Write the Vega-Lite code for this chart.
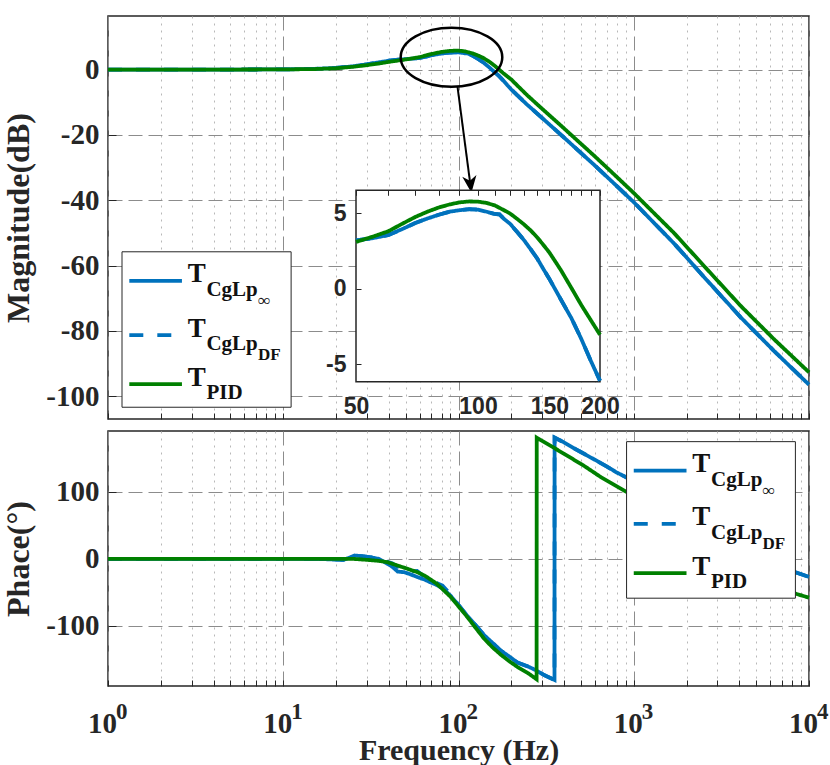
{
  "$schema": "https://vega.github.io/schema/vega-lite/v6.json",
  "padding": {"left": 2, "top": 15, "right": 5, "bottom": 0},
  "spacing": 12,
  "bounds": "flush",
  "datasets": {
    "mag": [
      {"s":"inf","f":1,"m":0},{"s":"inf","f":5,"m":0},{"s":"inf","f":10,"m":0.05},{"s":"inf","f":15,"m":0.2},{"s":"inf","f":20,"m":0.5},{"s":"inf","f":25,"m":1.0},{"s":"inf","f":30,"m":1.6},{"s":"inf","f":35,"m":2.2},{"s":"inf","f":40,"m":2.7},{"s":"inf","f":45,"m":3.0},{"s":"inf","f":50,"m":3.2},{"s":"inf","f":55,"m":3.35},{"s":"inf","f":60,"m":3.55},{"s":"inf","f":65,"m":3.95},{"s":"inf","f":70,"m":4.35},{"s":"inf","f":75,"m":4.65},{"s":"inf","f":80,"m":4.9},{"s":"inf","f":85,"m":5.1},{"s":"inf","f":90,"m":5.2},{"s":"inf","f":95,"m":5.27},{"s":"inf","f":100,"m":5.24},{"s":"inf","f":105,"m":5.1},{"s":"inf","f":110,"m":4.95},{"s":"inf","f":113,"m":4.92},{"s":"inf","f":116,"m":4.62},{"s":"inf","f":120,"m":4.3},{"s":"inf","f":125,"m":3.75},{"s":"inf","f":130,"m":3.2},{"s":"inf","f":135,"m":2.6},{"s":"inf","f":140,"m":2.0},{"s":"inf","f":145,"m":1.3},{"s":"inf","f":150,"m":0.65},{"s":"inf","f":160,"m":-0.7},{"s":"inf","f":170,"m":-1.95},{"s":"inf","f":180,"m":-3.35},{"s":"inf","f":190,"m":-4.8},{"s":"inf","f":200,"m":-6.1},{"s":"inf","f":247,"m":-10.8},{"s":"inf","f":307,"m":-15.3},{"s":"inf","f":383,"m":-19.9},{"s":"inf","f":476,"m":-24.5},{"s":"inf","f":592,"m":-29.1},{"s":"inf","f":738,"m":-33.9},{"s":"inf","f":1000,"m":-40.6},{"s":"inf","f":1694,"m":-53.2},{"s":"inf","f":2625,"m":-64.6},{"s":"inf","f":4064,"m":-75.8},{"s":"inf","f":6295,"m":-86.1},{"s":"inf","f":10000,"m":-96.5},
      {"s":"df","f":1,"m":0},{"s":"df","f":5,"m":0},{"s":"df","f":10,"m":0.05},{"s":"df","f":15,"m":0.2},{"s":"df","f":20,"m":0.5},{"s":"df","f":25,"m":1.0},{"s":"df","f":30,"m":1.6},{"s":"df","f":35,"m":2.2},{"s":"df","f":40,"m":2.7},{"s":"df","f":45,"m":3.0},{"s":"df","f":50,"m":3.2},{"s":"df","f":55,"m":3.35},{"s":"df","f":60,"m":3.55},{"s":"df","f":65,"m":3.95},{"s":"df","f":70,"m":4.35},{"s":"df","f":75,"m":4.65},{"s":"df","f":80,"m":4.9},{"s":"df","f":85,"m":5.1},{"s":"df","f":90,"m":5.2},{"s":"df","f":95,"m":5.27},{"s":"df","f":100,"m":5.24},{"s":"df","f":105,"m":5.1},{"s":"df","f":110,"m":4.95},{"s":"df","f":113,"m":4.92},{"s":"df","f":116,"m":4.62},{"s":"df","f":120,"m":4.3},{"s":"df","f":125,"m":3.75},{"s":"df","f":130,"m":3.2},{"s":"df","f":135,"m":2.6},{"s":"df","f":140,"m":2.0},{"s":"df","f":145,"m":1.3},{"s":"df","f":150,"m":0.65},{"s":"df","f":160,"m":-0.7},{"s":"df","f":170,"m":-1.95},{"s":"df","f":180,"m":-3.35},{"s":"df","f":190,"m":-4.8},{"s":"df","f":200,"m":-6.1},{"s":"df","f":247,"m":-10.8},{"s":"df","f":307,"m":-15.3},{"s":"df","f":383,"m":-19.9},{"s":"df","f":476,"m":-24.5},{"s":"df","f":592,"m":-29.1},{"s":"df","f":738,"m":-33.9},{"s":"df","f":1000,"m":-40.6},{"s":"df","f":1694,"m":-53.2},{"s":"df","f":2625,"m":-64.6},{"s":"df","f":4064,"m":-75.8},{"s":"df","f":6295,"m":-86.1},{"s":"df","f":10000,"m":-96.5},
      {"s":"pid","f":1,"m":0},{"s":"pid","f":5,"m":0},{"s":"pid","f":10,"m":0.05},{"s":"pid","f":15,"m":0.15},{"s":"pid","f":20,"m":0.4},{"s":"pid","f":25,"m":0.85},{"s":"pid","f":30,"m":1.35},{"s":"pid","f":35,"m":1.85},{"s":"pid","f":40,"m":2.35},{"s":"pid","f":45,"m":2.75},{"s":"pid","f":50,"m":3.1},{"s":"pid","f":55,"m":3.45},{"s":"pid","f":60,"m":3.8},{"s":"pid","f":65,"m":4.3},{"s":"pid","f":70,"m":4.75},{"s":"pid","f":75,"m":5.1},{"s":"pid","f":80,"m":5.38},{"s":"pid","f":85,"m":5.58},{"s":"pid","f":90,"m":5.72},{"s":"pid","f":95,"m":5.78},{"s":"pid","f":100,"m":5.77},{"s":"pid","f":105,"m":5.68},{"s":"pid","f":110,"m":5.52},{"s":"pid","f":115,"m":5.25},{"s":"pid","f":120,"m":4.98},{"s":"pid","f":125,"m":4.62},{"s":"pid","f":130,"m":4.25},{"s":"pid","f":135,"m":3.85},{"s":"pid","f":140,"m":3.4},{"s":"pid","f":145,"m":2.9},{"s":"pid","f":150,"m":2.4},{"s":"pid","f":160,"m":1.25},{"s":"pid","f":170,"m":0.05},{"s":"pid","f":180,"m":-1.1},{"s":"pid","f":190,"m":-2.1},{"s":"pid","f":200,"m":-3.05},{"s":"pid","f":247,"m":-7.9},{"s":"pid","f":307,"m":-12.5},{"s":"pid","f":383,"m":-17.1},{"s":"pid","f":476,"m":-21.7},{"s":"pid","f":592,"m":-26.3},{"s":"pid","f":738,"m":-31.1},{"s":"pid","f":1000,"m":-37.8},{"s":"pid","f":1694,"m":-50},{"s":"pid","f":2625,"m":-61.2},{"s":"pid","f":4064,"m":-72.3},{"s":"pid","f":6295,"m":-82.5},{"s":"pid","f":10000,"m":-92.7}
    ],
    "phase": [
      {"s":"inf","f":1,"p":0},{"s":"inf","f":5,"p":0},{"s":"inf","f":10,"p":0},{"s":"inf","f":15,"p":0},{"s":"inf","f":20,"p":-1},{"s":"inf","f":22,"p":-1.5},{"s":"inf","f":24,"p":2},{"s":"inf","f":25.5,"p":5},{"s":"inf","f":28,"p":4},{"s":"inf","f":32,"p":2},{"s":"inf","f":35,"p":0},{"s":"inf","f":39,"p":-7},{"s":"inf","f":42,"p":-12},{"s":"inf","f":45,"p":-19},{"s":"inf","f":49,"p":-20},{"s":"inf","f":53,"p":-23},{"s":"inf","f":58,"p":-27},{"s":"inf","f":64,"p":-31},{"s":"inf","f":69,"p":-35},{"s":"inf","f":75,"p":-39},{"s":"inf","f":81,"p":-44},{"s":"inf","f":90,"p":-55},{"s":"inf","f":100,"p":-69},{"s":"inf","f":112,"p":-85},{"s":"inf","f":126,"p":-100},{"s":"inf","f":140,"p":-114},{"s":"inf","f":157,"p":-126},{"s":"inf","f":174,"p":-137},{"s":"inf","f":195,"p":-146},{"s":"inf","f":217,"p":-155},{"s":"inf","f":250,"p":-161},{"s":"inf","f":279,"p":-167},{"s":"inf","f":310,"p":-174},{"s":"inf","f":353,"p":-181},{"s":"inf","f":353.5,"p":181},{"s":"inf","f":400,"p":174},{"s":"inf","f":450,"p":166},{"s":"inf","f":520,"p":157},{"s":"inf","f":600,"p":148},{"s":"inf","f":700,"p":138},{"s":"inf","f":800,"p":129},{"s":"inf","f":910,"p":121.6},{"s":"inf","f":8364,"p":-20},{"s":"inf","f":10000,"p":-27},
      {"s":"df","f":1,"p":0},{"s":"df","f":5,"p":0},{"s":"df","f":10,"p":0},{"s":"df","f":15,"p":0},{"s":"df","f":20,"p":-1},{"s":"df","f":22,"p":-1.5},{"s":"df","f":24,"p":2},{"s":"df","f":25.5,"p":5},{"s":"df","f":28,"p":4},{"s":"df","f":32,"p":2},{"s":"df","f":35,"p":1},{"s":"df","f":39,"p":-4},{"s":"df","f":42,"p":-7},{"s":"df","f":45,"p":-12},{"s":"df","f":49,"p":-16},{"s":"df","f":53,"p":-19},{"s":"df","f":58,"p":-18},{"s":"df","f":64,"p":-27},{"s":"df","f":69,"p":-33},{"s":"df","f":75,"p":-36},{"s":"df","f":81,"p":-40},{"s":"df","f":90,"p":-53},{"s":"df","f":100,"p":-69},{"s":"df","f":112,"p":-85},{"s":"df","f":126,"p":-100},{"s":"df","f":140,"p":-114},{"s":"df","f":157,"p":-126},{"s":"df","f":174,"p":-137},{"s":"df","f":195,"p":-146},{"s":"df","f":217,"p":-155},{"s":"df","f":250,"p":-161},{"s":"df","f":279,"p":-167},{"s":"df","f":310,"p":-174},{"s":"df","f":353,"p":-181},{"s":"df","f":353.5,"p":181},{"s":"df","f":400,"p":174},{"s":"df","f":450,"p":166},{"s":"df","f":520,"p":157},{"s":"df","f":600,"p":148},{"s":"df","f":700,"p":138},{"s":"df","f":800,"p":129},{"s":"df","f":910,"p":121.6},{"s":"df","f":8364,"p":-20},{"s":"df","f":10000,"p":-27},
      {"s":"pid","f":1,"p":0},{"s":"pid","f":5,"p":0},{"s":"pid","f":10,"p":0},{"s":"pid","f":20,"p":0},{"s":"pid","f":25,"p":0},{"s":"pid","f":30,"p":-1.5},{"s":"pid","f":35,"p":-3},{"s":"pid","f":39.3,"p":-5},{"s":"pid","f":44.9,"p":-10},{"s":"pid","f":50,"p":-14},{"s":"pid","f":58.3,"p":-20},{"s":"pid","f":64,"p":-25},{"s":"pid","f":69.4,"p":-31},{"s":"pid","f":75,"p":-37},{"s":"pid","f":80.9,"p":-45},{"s":"pid","f":90.3,"p":-57},{"s":"pid","f":100,"p":-71},{"s":"pid","f":112.4,"p":-87},{"s":"pid","f":126,"p":-104},{"s":"pid","f":139.7,"p":-119},{"s":"pid","f":156,"p":-132},{"s":"pid","f":174,"p":-143},{"s":"pid","f":195,"p":-153},{"s":"pid","f":216.7,"p":-161.5},{"s":"pid","f":250,"p":-171},{"s":"pid","f":279,"p":-180},{"s":"pid","f":279.5,"p":181},{"s":"pid","f":400,"p":157},{"s":"pid","f":520,"p":139},{"s":"pid","f":650,"p":122},{"s":"pid","f":910,"p":100},{"s":"pid","f":8364,"p":-52},{"s":"pid","f":10000,"p":-58}
    ],
    "legend": [
      {"panel":"mag","s":"inf","x1":1.323,"x2":2.642,"y":-64.7,"sub":"CgLp","subsub":"∞"},
      {"panel":"mag","s":"df","x1":1.323,"x2":2.642,"y":-81.3,"sub":"CgLp","subsub":"DF"},
      {"panel":"mag","s":"pid","x1":1.323,"x2":2.642,"y":-96.3,"sub":"PID","subsub":""},
      {"panel":"phase","s":"inf","x1":1000,"x2":2000,"y":131.8,"sub":"CgLp","subsub":"∞"},
      {"panel":"phase","s":"df","x1":1000,"x2":2000,"y":52.2,"sub":"CgLp","subsub":"DF"},
      {"panel":"phase","s":"pid","x1":1000,"x2":2000,"y":-21.5,"sub":"PID","subsub":""}
    ],
    "box": [
      {"panel":"mag","x1":1.202,"x2":11.09,"y1":-55.8,"y2":-103.4},
      {"panel":"phase","x1":910,"x2":8364,"y1":175.1,"y2":-58.8}
    ],
    "ellipse": [{"f":91.2,"m":3.76}],
    "arrow": [{"f1":98.6,"m1":-5.05,"f2":118.5,"m2":-37.7}],
    "frame": [{"x1":50,"x2":200,"y1":-6.16,"y2":6.52}],
    "exps": [{"f":1,"e":"0"},{"f":10,"e":"1"},{"f":100,"e":"2"},{"f":1000,"e":"3"},{"f":10000,"e":"4"}]
  },
  "vconcat": [
    {
      "width": 701,
      "height": 403,
      "layer": [
        {
          "layer": [
            {
              "data": {"name": "mag"},
              "mark": {"type": "line", "strokeWidth": 3.8},
              "encoding": {
                "x": {"field": "f", "type": "quantitative",
                  "scale": {"type": "log", "domain": [1, 10000], "nice": false},
                  "axis": {"orient": "bottom", "zindex": 0, "labels": false, "title": null, "tickSize": -6,
                    "values": [1,2,3,4,5,6,7,8,9,10,20,30,40,50,60,70,80,90,100,200,300,400,500,600,700,800,900,1000,2000,3000,4000,5000,6000,7000,8000,9000,10000],
                    "gridDash": {"condition": {"test": "datum.value===1||datum.value===10||datum.value===100||datum.value===1000||datum.value===10000", "value": [14, 6]}, "value": [2, 5]},
                    "gridColor": {"condition": {"test": "datum.value===1||datum.value===10||datum.value===100||datum.value===1000||datum.value===10000", "value": "#8c8c8c"}, "value": "#b8b8b8"}}},
                "y": {"field": "m", "type": "quantitative",
                  "scale": {"domain": [-107, 16.4], "nice": false, "zero": false},
                  "axis": {"orient": "left", "zindex": 0, "values": [-100,-80,-60,-40,-20,0], "labelExpr": "'' + datum.value",
                    "title": "Magnitude(dB)", "labelPadding": 17, "titlePadding": 10, "tickSize": -8}},
                "color": {"field": "s", "type": "nominal", "scale": {"domain": ["inf","df","pid"], "range": ["#0072BD","#0072BD","#008000"]}, "legend": null},
                "strokeDash": {"field": "s", "type": "nominal", "scale": {"domain": ["inf","df","pid"], "range": [[1,0],[14,14],[1,0]]}, "legend": null}
              }
            },
            {
              "data": {"name": "ellipse"},
              "mark": {"type": "point", "shape": "M-1,0 A1,0.58 0 1,0 1,0 A1,0.58 0 1,0 -1,0 Z", "size": 10320, "filled": false, "stroke": "#000000", "strokeWidth": 2.5, "opacity": 1},
              "encoding": {
                "x": {"field": "f", "type": "quantitative"},
                "y": {"field": "m", "type": "quantitative"}
              }
            },
            {
              "data": {"name": "arrow"},
              "mark": {"type": "rule", "stroke": "#000000", "strokeWidth": 2},
              "encoding": {
                "x": {"field": "f1", "type": "quantitative"},
                "y": {"field": "m1", "type": "quantitative"},
                "x2": {"field": "f2"},
                "y2": {"field": "m2"}
              }
            },
            {
              "data": {"name": "arrow"},
              "mark": {"type": "point", "shape": "M0,0 L-0.42,-1 L0,-0.7 L0.42,-1 Z", "size": 1156, "filled": true, "fill": "#000000", "opacity": 1, "angle": 353},
              "encoding": {
                "x": {"field": "f2", "type": "quantitative"},
                "y": {"field": "m2", "type": "quantitative"}
              }
            },
            {
              "data": {"name": "box"},
              "transform": [{"filter": "datum.panel === 'mag'"}],
              "mark": {"type": "rect", "fill": "#ffffff", "stroke": "#262626", "strokeWidth": 1},
              "encoding": {
                "x": {"field": "x1", "type": "quantitative"},
                "x2": {"field": "x2"},
                "y": {"field": "y1", "type": "quantitative"},
                "y2": {"field": "y2"}
              }
            },
            {
              "data": {"name": "legend"},
              "transform": [{"filter": "datum.panel === 'mag'"}],
              "mark": {"type": "rule", "strokeWidth": 3.8},
              "encoding": {
                "x": {"field": "x1", "type": "quantitative"},
                "x2": {"field": "x2"},
                "y": {"field": "y", "type": "quantitative"},
                "color": {"field": "s", "type": "nominal", "legend": null},
                "strokeDash": {"field": "s", "type": "nominal", "legend": null}
              }
            },
            {
              "data": {"name": "legend"},
              "transform": [{"filter": "datum.panel === 'mag'"}],
              "mark": {"type": "text", "align": "left", "baseline": "alphabetic", "dx": 5.7, "dy": 1.5, "font": "Liberation Serif", "fontWeight": "bold", "fontSize": 27, "color": "#111111"},
              "encoding": {
                "x": {"field": "x2", "type": "quantitative"},
                "y": {"field": "y", "type": "quantitative"},
                "text": {"value": "T"}
              }
            },
            {
              "data": {"name": "legend"},
              "transform": [{"filter": "datum.panel === 'mag'"}],
              "mark": {"type": "text", "align": "left", "baseline": "alphabetic", "dx": 24.5, "dy": 15, "font": "Liberation Serif", "fontWeight": "bold", "fontSize": 21, "color": "#111111"},
              "encoding": {
                "x": {"field": "x2", "type": "quantitative"},
                "y": {"field": "y", "type": "quantitative"},
                "text": {"field": "sub"}
              }
            },
            {
              "data": {"name": "legend"},
              "transform": [{"filter": "datum.panel === 'mag'"}],
              "mark": {"type": "text", "align": "left", "baseline": "alphabetic", "dx": 76, "dy": 25, "font": "Liberation Serif", "fontWeight": "bold", "fontSize": 17, "color": "#111111"},
              "encoding": {
                "x": {"field": "x2", "type": "quantitative"},
                "y": {"field": "y", "type": "quantitative"},
                "text": {"field": "subsub"}
              }
            }
          ]
        },
        {
          "layer": [
            {
              "data": {"name": "frame"},
              "mark": {"type": "rect", "fill": "#ffffff", "stroke": "#262626", "strokeWidth": 1.5},
              "encoding": {
                "x": {"field": "x1", "type": "quantitative",
                  "scale": {"type": "log", "domain": [50, 200], "range": [248, 492], "nice": false},
                  "axis": {"orient": "top", "offset": -174.3, "zindex": 1, "title": null,
                    "values": [50,60,70,80,90,100,110,120,130,140,150,160,170,180,190,200],
                    "labelExpr": "(datum.value===50||datum.value===100||datum.value===150||datum.value===200) ? ''+datum.value : ''",
                    "labelFont": "Liberation Sans", "labelFontSize": 23, "labelBaseline": "alphabetic", "labelPadding": -218.5, "tickSize": -5,
                    "gridDash": {"condition": {"test": "datum.value===100||datum.value===150", "value": [14, 6]}, "value": [2, 5]},
                    "gridColor": {"condition": {"test": "datum.value===100||datum.value===150", "value": "#8c8c8c"}, "value": "#b8b8b8"},
                    "gridOpacity": {"condition": {"test": "datum.value===50||datum.value===200", "value": 0}, "value": 1}}},
                "x2": {"field": "x2"},
                "y": {"field": "y1", "type": "quantitative",
                  "scale": {"domain": [-6.16, 6.52], "range": [365.7, 174.3], "nice": false, "zero": false},
                  "axis": {"orient": "left", "offset": -248, "zindex": 1, "title": null, "values": [-5, 0, 5],
                    "labelExpr": "'' + datum.value", "labelFont": "Liberation Sans", "labelFontSize": 23, "labelPadding": 15, "tickSize": -5}},
                "y2": {"field": "y2"}
              }
            },
            {
              "data": {"name": "mag"},
              "transform": [{"filter": "datum.f >= 50 && datum.f <= 200"}],
              "mark": {"type": "line", "strokeWidth": 3.8},
              "encoding": {
                "x": {"field": "f", "type": "quantitative"},
                "y": {"field": "m", "type": "quantitative"},
                "color": {"field": "s", "type": "nominal", "legend": null},
                "strokeDash": {"field": "s", "type": "nominal", "legend": null}
              }
            }
          ]
        }
      ],
      "resolve": {"scale": {"x": "independent", "y": "independent"}}
    },
    {
      "width": 701,
      "height": 255,
      "layer": [
        {
          "data": {"name": "phase"},
          "mark": {"type": "line", "strokeWidth": 3.8},
          "encoding": {
            "x": {"field": "f", "type": "quantitative",
              "scale": {"type": "log", "domain": [1, 10000], "nice": false},
              "axis": {"orient": "bottom", "zindex": 0, "title": "Frequency (Hz)", "tickSize": -6,
                "values": [1,2,3,4,5,6,7,8,9,10,20,30,40,50,60,70,80,90,100,200,300,400,500,600,700,800,900,1000,2000,3000,4000,5000,6000,7000,8000,9000,10000],
                "labelExpr": "(datum.value===1||datum.value===10||datum.value===100||datum.value===1000||datum.value===10000) ? '10' : ''",
                "labelBaseline": "alphabetic", "labelPadding": 52.7, "labelOffset": -6, "titleFontSize": 30, "titlePadding": -3,
                "gridDash": {"condition": {"test": "datum.value===1||datum.value===10||datum.value===100||datum.value===1000||datum.value===10000", "value": [14, 6]}, "value": [2, 5]},
                "gridColor": {"condition": {"test": "datum.value===1||datum.value===10||datum.value===100||datum.value===1000||datum.value===10000", "value": "#8c8c8c"}, "value": "#b8b8b8"}}},
            "y": {"field": "p", "type": "quantitative",
              "scale": {"domain": [-190, 191], "nice": false, "zero": false},
              "axis": {"orient": "left", "zindex": 0, "values": [-100, 0, 100], "labelExpr": "'' + datum.value",
                "title": "Phace(°)", "labelPadding": 17, "titlePadding": 10, "tickSize": -8}},
            "color": {"field": "s", "type": "nominal", "scale": {"domain": ["inf","df","pid"], "range": ["#0072BD","#0072BD","#008000"]}, "legend": null},
            "strokeDash": {"field": "s", "type": "nominal", "scale": {"domain": ["inf","df","pid"], "range": [[1,0],[14,14],[1,0]]}, "legend": null}
          }
        },
        {
          "data": {"name": "box"},
          "transform": [{"filter": "datum.panel === 'phase'"}],
          "mark": {"type": "rect", "fill": "#ffffff", "stroke": "#262626", "strokeWidth": 1},
          "encoding": {
            "x": {"field": "x1", "type": "quantitative"},
            "x2": {"field": "x2"},
            "y": {"field": "y1", "type": "quantitative"},
            "y2": {"field": "y2"}
          }
        },
        {
          "data": {"name": "legend"},
          "transform": [{"filter": "datum.panel === 'phase'"}],
          "mark": {"type": "rule", "strokeWidth": 3.8},
          "encoding": {
            "x": {"field": "x1", "type": "quantitative"},
            "x2": {"field": "x2"},
            "y": {"field": "y", "type": "quantitative"},
            "color": {"field": "s", "type": "nominal", "legend": null},
            "strokeDash": {"field": "s", "type": "nominal", "legend": null}
          }
        },
        {
          "data": {"name": "legend"},
          "transform": [{"filter": "datum.panel === 'phase'"}],
          "mark": {"type": "text", "align": "left", "baseline": "alphabetic", "dx": 5.7, "dy": 1.5, "font": "Liberation Serif", "fontWeight": "bold", "fontSize": 27, "color": "#111111"},
          "encoding": {
            "x": {"field": "x2", "type": "quantitative"},
            "y": {"field": "y", "type": "quantitative"},
            "text": {"value": "T"}
          }
        },
        {
          "data": {"name": "legend"},
          "transform": [{"filter": "datum.panel === 'phase'"}],
          "mark": {"type": "text", "align": "left", "baseline": "alphabetic", "dx": 24.5, "dy": 15, "font": "Liberation Serif", "fontWeight": "bold", "fontSize": 21, "color": "#111111"},
          "encoding": {
            "x": {"field": "x2", "type": "quantitative"},
            "y": {"field": "y", "type": "quantitative"},
            "text": {"field": "sub"}
          }
        },
        {
          "data": {"name": "legend"},
          "transform": [{"filter": "datum.panel === 'phase'"}],
          "mark": {"type": "text", "align": "left", "baseline": "alphabetic", "dx": 76, "dy": 25, "font": "Liberation Serif", "fontWeight": "bold", "fontSize": 17, "color": "#111111"},
          "encoding": {
            "x": {"field": "x2", "type": "quantitative"},
            "y": {"field": "y", "type": "quantitative"},
            "text": {"field": "subsub"}
          }
        },
        {
          "data": {"name": "exps"},
          "mark": {"type": "text", "align": "left", "baseline": "alphabetic", "dx": 8, "dy": 33, "font": "Liberation Serif", "fontWeight": "bold", "fontSize": 23, "color": "#262626"},
          "encoding": {
            "x": {"field": "f", "type": "quantitative"},
            "y": {"datum": -190, "type": "quantitative"},
            "text": {"field": "e"}
          }
        }
      ]
    }
  ],
  "config": {
    "font": "Liberation Serif",
    "view": {"stroke": "#262626", "strokeWidth": 1.5},
    "axis": {
      "domain": false,
      "grid": true,
      "labelFont": "Liberation Serif",
      "labelFontSize": 29,
      "labelFontWeight": "bold",
      "labelColor": "#262626",
      "labelFlush": false,
      "labelOverlap": false,
      "titleFont": "Liberation Serif",
      "titleFontSize": 32,
      "titleFontWeight": "bold",
      "titleColor": "#262626",
      "tickColor": "#262626",
      "tickWidth": 1,
      "gridColor": "#8c8c8c",
      "gridDash": [14, 6],
      "gridWidth": 1
    }
  }
}
